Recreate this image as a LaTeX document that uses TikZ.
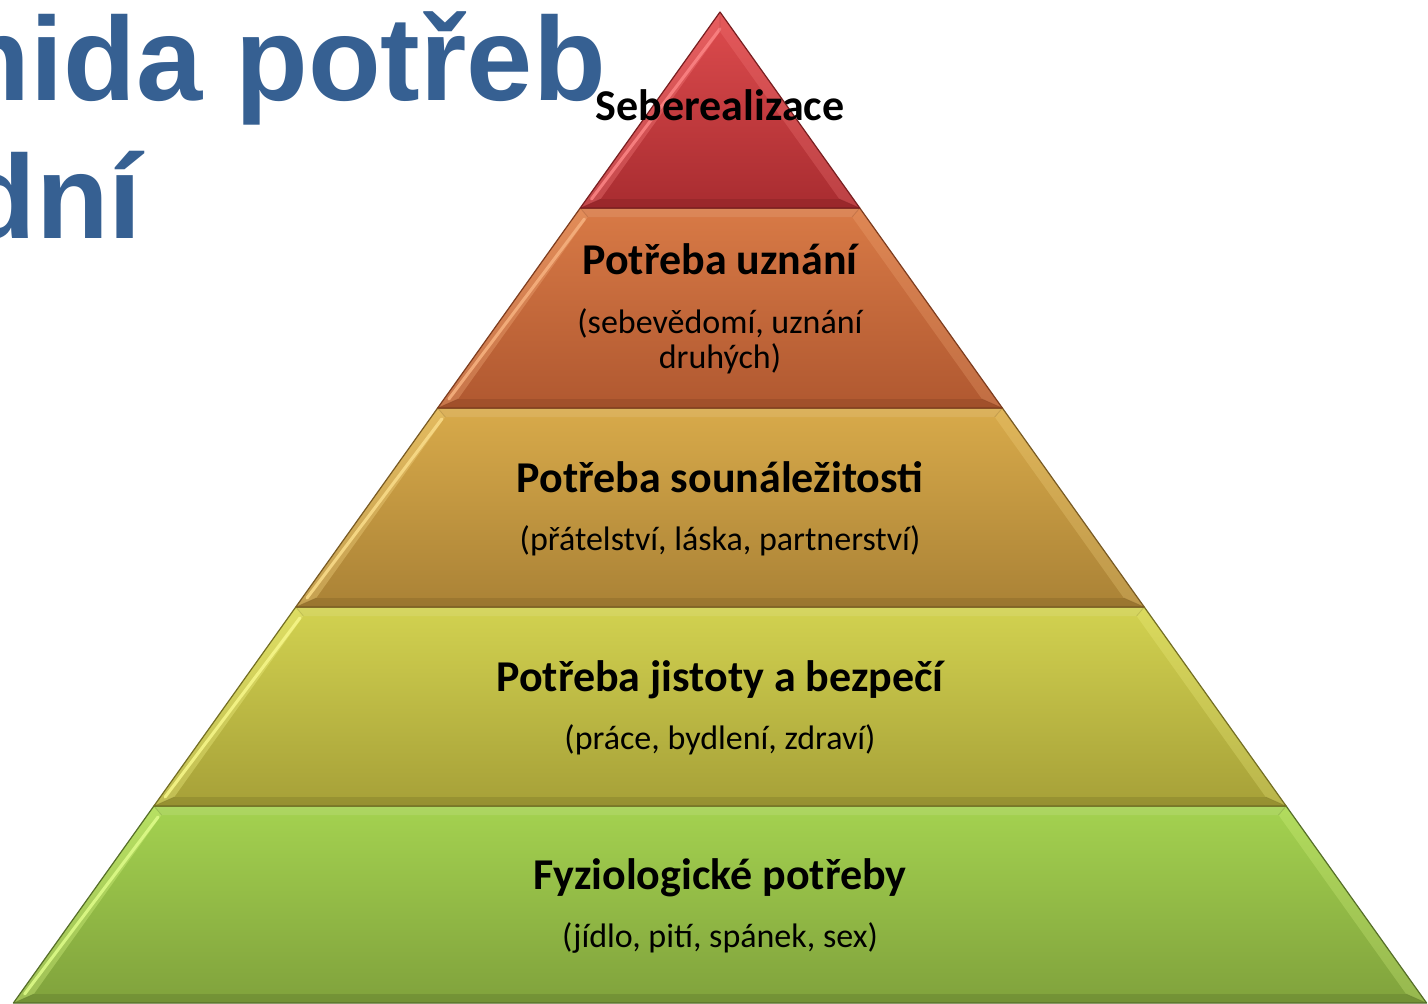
\documentclass[tikz,border=0pt]{standalone}
\usepackage{fontspec}
\setmainfont{Carlito}
\newfontfamily\titlefont{Liberation Sans}
\usetikzlibrary{calc}
\definecolor{titleblue}{RGB}{54,96,146}
\definecolor{redT}{RGB}{222,76,78}
\definecolor{redB}{RGB}{168,44,48}
\definecolor{redL}{RGB}{250,130,130}
\definecolor{redD}{RGB}{120,30,32}
\definecolor{orT}{RGB}{216,122,70}
\definecolor{orB}{RGB}{176,88,48}
\definecolor{orL}{RGB}{245,175,125}
\definecolor{orD}{RGB}{125,60,30}
\definecolor{goT}{RGB}{216,170,74}
\definecolor{goB}{RGB}{170,130,54}
\definecolor{goL}{RGB}{248,218,135}
\definecolor{goD}{RGB}{120,90,35}
\definecolor{yeT}{RGB}{210,210,80}
\definecolor{yeB}{RGB}{166,160,56}
\definecolor{yeL}{RGB}{245,245,135}
\definecolor{yeD}{RGB}{115,110,35}
\definecolor{grT}{RGB}{164,210,80}
\definecolor{grB}{RGB}{128,162,60}
\definecolor{grL}{RGB}{220,250,135}
\definecolor{grD}{RGB}{85,110,40}
\newcommand{\pyrlevel}[6]{%
  \pgfmathsetmacro{\pyYt}{#1}%
  \pgfmathsetmacro{\pyYb}{#2}%
  \pgfmathsetmacro{\pyWt}{0.713*(\pyYt-12)}%
  \pgfmathsetmacro{\pyWb}{0.713*(\pyYb-12)}%
  \pgfmathsetmacro{\pyYti}{max(\pyYt+9,12+14/0.713)}%
  \pgfmathsetmacro{\pyYbi}{\pyYb-9}%
  \pgfmathsetmacro{\pyWti}{0.713*(\pyYti-12)-14}%
  \pgfmathsetmacro{\pyWbi}{0.713*(\pyYbi-12)-14}%
  \coordinate (A) at ({720-\pyWb},\pyYb);
  \coordinate (B) at ({720+\pyWb},\pyYb);
  \coordinate (C) at ({720+\pyWt},\pyYt);
  \coordinate (D) at ({720-\pyWt},\pyYt);
  \coordinate (a) at ({720-\pyWbi},\pyYbi);
  \coordinate (b) at ({720+\pyWbi},\pyYbi);
  \coordinate (c) at ({720+\pyWti},\pyYti);
  \coordinate (d) at ({720-\pyWti},\pyYti);
  \shade[top color=#3, bottom color=#4] (A) -- (B) -- (C) -- (D) -- cycle;
  \fill[#5, opacity=0.35] (A) -- (D) -- (d) -- (a) -- cycle;
  \fill[#5, opacity=0.25] (B) -- (C) -- (c) -- (b) -- cycle;
  \fill[#6, opacity=0.30] (A) -- (B) -- (b) -- (a) -- cycle;
  \fill[white, opacity=0.10] (D) -- (C) -- (c) -- (d) -- cycle;
  \draw[#5, line width=3, line cap=round, opacity=0.9]
    ($(a)!0.45!(A)+(0,-4)$) -- ($(d)!0.45!(D)+(0,6)$);
  \draw[#6, opacity=0.25, line width=0.8] (A) -- (a) (B) -- (b) (C) -- (c) (D) -- (d);
  \draw[#6, line width=1.2, line join=round] (A) -- (B) -- (C) -- (D) -- cycle;
}
\tikzset{
  head/.style={font=\bfseries\fontsize{44}{50}\selectfont, inner sep=0, anchor=base},
  sub/.style={font=\fontsize{34}{37}\selectfont, inner sep=0, anchor=base},
  ttl/.style={font=\titlefont\bfseries\fontsize{119}{130}\selectfont, text=titleblue, inner sep=0, anchor=base east}
}
\begin{document}
\begin{tikzpicture}[x=1pt, y=-1pt]
\useasboundingbox (0,0) rectangle (1428,1004);
\clip (0,0) rectangle (1428,1004);
\fill[white] (0,0) rectangle (1428,1004);
\node[ttl] (t1) at (606,100) {mida potřeb};
\node[ttl] (t2) at (142,238) {dní};
\pyrlevel{806}{1003}{grT}{grB}{grL}{grD}
\pyrlevel{607}{806}{yeT}{yeB}{yeL}{yeD}
\pyrlevel{408}{607}{goT}{goB}{goL}{goD}
\pyrlevel{208}{408}{orT}{orB}{orL}{orD}
\pyrlevel{12}{208}{redT}{redB}{redL}{redD}
\node[head] (s0) at (720,120) {Seberealizace};
\node[head] (h1) at (720,274) {Potřeba uznání};
\node[sub] (s1a) at (720,333) {(sebevědomí, uznání};
\node[sub] (s1b) at (720,368) {druhých)};
\node[head] (h2) at (720,492) {Potřeba sounáležitosti};
\node[sub] (s2) at (720,550) {(přátelství, láska, partnerství)};
\node[head] (h3) at (720,691) {Potřeba jistoty a bezpečí};
\node[sub] (s3) at (720,749) {(práce, bydlení, zdraví)};
\node[head] (h4) at (720,889) {Fyziologické potřeby};
\node[sub] (s4) at (720,947) {(jídlo, pití, spánek, sex)};
\end{tikzpicture}
\end{document}
